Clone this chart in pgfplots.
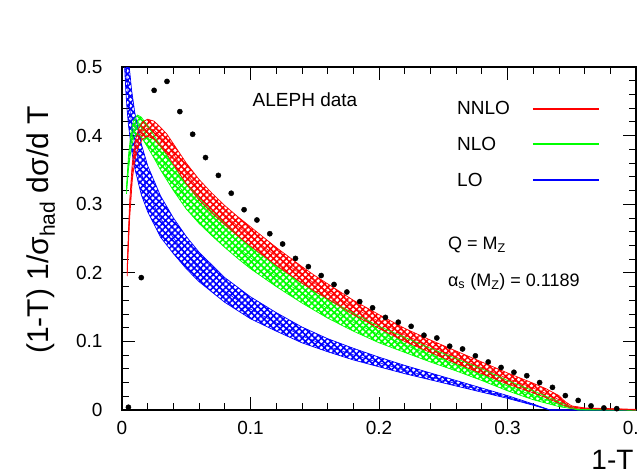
\documentclass[border=0pt]{standalone}
\usepackage{fontspec}
\setmainfont{Liberation Sans}
\usepackage{pgfplots}
\pgfplotsset{compat=1.18}
\usepackage{pgfplotstable}
\usepgfplotslibrary{fillbetween}
\usetikzlibrary{patterns.meta}

\pgfplotstableread{
x L C U
0.002 0.501 0.551 0.617
0.003 0.464 0.510 0.571
0.004 0.437 0.480 0.538
0.005 0.416 0.458 0.512
0.0075 0.378 0.416 0.466
0.010 0.352 0.386 0.433
0.015 0.314 0.345 0.388
0.020 0.289 0.318 0.356
0.030 0.252 0.279 0.312
0.040 0.228 0.251 0.280
0.050 0.206 0.227 0.253
0.060 0.187 0.206 0.230
0.080 0.157 0.173 0.193
0.100 0.133 0.147 0.165
0.120 0.115 0.127 0.142
0.140 0.098 0.108 0.121
0.160 0.085 0.093 0.104
0.180 0.073 0.0805 0.090
0.200 0.063 0.069 0.077
0.220 0.053 0.058 0.065
0.240 0.044 0.048 0.054
0.260 0.035 0.0385 0.043
0.280 0.026 0.0287 0.032
0.300 0.017 0.0186 0.021
0.320 0.007 0.0078 0.0087
0.333 0.000 0.000 0.000
0.400 0.000 0.000 0.000
}\tabLO

\pgfplotstableread{
x L C U
0.0035 0.315 0.320 0.325
0.005 0.350 0.360 0.370
0.007 0.380 0.392 0.405
0.009 0.397 0.410 0.422
0.012 0.403 0.416 0.430
0.015 0.398 0.412 0.427
0.020 0.383 0.398 0.414
0.025 0.367 0.383 0.400
0.030 0.350 0.367 0.385
0.040 0.320 0.338 0.356
0.050 0.293 0.3115 0.330
0.060 0.272 0.290 0.308
0.070 0.254 0.2715 0.289
0.080 0.237 0.254 0.271
0.090 0.221 0.2375 0.254
0.100 0.206 0.222 0.238
0.110 0.193 0.2085 0.224
0.120 0.180 0.195 0.210
0.130 0.168 0.1825 0.197
0.140 0.156 0.1705 0.185
0.150 0.145 0.159 0.173
0.160 0.134 0.148 0.162
0.180 0.115 0.128 0.141
0.200 0.098 0.110 0.122
0.220 0.084 0.095 0.106
0.240 0.070 0.080 0.090
0.260 0.057 0.066 0.075
0.280 0.043 0.051 0.060
0.300 0.028 0.035 0.043
0.320 0.015 0.021 0.028
0.330 0.010 0.015 0.020
0.340 0.005 0.008 0.012
0.350 0.002 0.003 0.004
0.355 0.000 0.0005 0.001
0.400 0.000 0.000 0.000
}\tabNLO

\pgfplotstableread{
x L C U
0.004 0.195 0.200 0.205
0.005 0.240 0.250 0.260
0.006 0.280 0.292 0.305
0.008 0.335 0.347 0.360
0.010 0.365 0.377 0.390
0.013 0.385 0.397 0.410
0.016 0.395 0.407 0.420
0.020 0.399 0.411 0.424
0.025 0.395 0.408 0.421
0.030 0.384 0.398 0.412
0.035 0.373 0.3875 0.402
0.040 0.358 0.373 0.388
0.050 0.330 0.345 0.360
0.060 0.306 0.321 0.336
0.070 0.287 0.3015 0.316
0.080 0.270 0.284 0.298
0.090 0.254 0.268 0.282
0.100 0.239 0.253 0.267
0.110 0.225 0.2385 0.252
0.120 0.211 0.224 0.237
0.130 0.198 0.2105 0.223
0.140 0.185 0.197 0.209
0.150 0.173 0.1845 0.196
0.160 0.162 0.173 0.184
0.180 0.139 0.1495 0.160
0.200 0.119 0.129 0.139
0.220 0.100 0.1095 0.119
0.240 0.084 0.093 0.102
0.260 0.068 0.077 0.086
0.280 0.053 0.0615 0.070
0.300 0.038 0.046 0.054
0.320 0.025 0.032 0.039
0.330 0.018 0.024 0.031
0.340 0.010 0.015 0.021
0.345 0.006 0.009 0.012
0.350 0.003 0.0045 0.006
0.360 0.002 0.0025 0.003
0.380 0.001 0.0015 0.002
0.400 0.000 0.0005 0.001
}\tabNNLO

\pgfplotstableread{
x y
0.005 0.004
0.015 0.193
0.025 0.466
0.035 0.479
0.045 0.435
0.055 0.402
0.065 0.368
0.075 0.342
0.085 0.316
0.095 0.292
0.105 0.277
0.115 0.257
0.125 0.242
0.135 0.221
0.145 0.209
0.155 0.196
0.165 0.183
0.175 0.172
0.185 0.158
0.195 0.149
0.205 0.135
0.215 0.128
0.225 0.122
0.235 0.109
0.245 0.105
0.255 0.093
0.265 0.089
0.275 0.079
0.285 0.070
0.295 0.062
0.305 0.055
0.315 0.050
0.325 0.040
0.335 0.033
0.345 0.021
0.355 0.014
0.365 0.006
0.375 0.003
0.385 0.002
}\tabData

\begin{document}
\begin{tikzpicture}
\begin{axis}[
  at={(0pt,0pt)}, anchor=south west,
  scale only axis, width=514pt, height=343pt,
  xmin=0, xmax=0.4, ymin=0, ymax=0.5,
  xtick={0,0.1,0.2,0.3,0.4}, xticklabels={0,0.1,0.2,0.3,0.4},
  ytick={0,0.1,0.2,0.3,0.4,0.5}, yticklabels={0,0.1,0.2,0.3,0.4,0.5},
  minor x tick num=4, minor y tick num=4,
  tick align=inside, major tick length=13pt, minor tick length=7pt,
  xtick pos=both, ytick pos=both,
  ticklabel style={font=\fontsize{19}{22}\selectfont},
  xticklabel style={yshift=-8pt},
  yticklabel style={xshift=-16pt},
  axis line style={line width=1.2pt},
  tick style={line width=0.8pt, black},
  xlabel={1-T},
  xlabel style={font=\fontsize{28}{32}\selectfont, at={(axis description cs:1.002,-0.145)}, anchor=east},
  ylabel={(1-T) 1/σ\textsubscript{had} dσ/d T},
  ylabel style={font=\fontsize{30}{34}\selectfont, at={(axis description cs:-0.158,0.525)}, anchor=center},
  legend plot pos=right, legend cell align=left,
  legend image code/.code={\draw[#1] (0pt,0pt) -- (66pt,0pt);},
  legend style={at={(axis description cs:0.642,0.9125)}, anchor=north west, draw=none, fill=none,
    font=\fontsize{19}{22}\selectfont, row sep=17pt, column sep=20pt},
]
% LO band
\addplot[name path=bU, blue, line width=0.7pt, forget plot] table[x=x,y=U]{\tabLO};
\addplot[name path=bL, blue, line width=0.7pt, forget plot] table[x=x,y=L]{\tabLO};
\addplot[blue, line width=0.6pt, forget plot] table[x=x,y=C]{\tabLO};
\addplot[draw=none, pattern={Hatch[angle=45,distance=4.5pt,line width=1.6pt]}, pattern color=blue, forget plot] fill between[of=bU and bL];
% NLO band
\addplot[name path=gU, green, line width=0.7pt, forget plot] table[x=x,y=U]{\tabNLO};
\addplot[name path=gL, green, line width=0.7pt, forget plot] table[x=x,y=L]{\tabNLO};
\addplot[green, line width=0.6pt, forget plot] table[x=x,y=C]{\tabNLO};
\addplot[draw=none, pattern={Hatch[angle=45,distance=4.5pt,line width=1.6pt]}, pattern color=green, forget plot] fill between[of=gU and gL];
% NNLO band
\addplot[name path=rU, red, line width=0.7pt, forget plot] table[x=x,y=U]{\tabNNLO};
\addplot[name path=rL, red, line width=0.7pt, forget plot] table[x=x,y=L]{\tabNNLO};
\addplot[red, line width=0.6pt, forget plot] table[x=x,y=C]{\tabNNLO};
\addplot[draw=none, pattern={Hatch[angle=45,distance=4.5pt,line width=1.6pt]}, pattern color=red, forget plot] fill between[of=rU and rL];
% data
\addplot[only marks, mark=*, mark size=2.6pt, black, forget plot] table[x=x,y=y]{\tabData};
% legend
\addlegendimage{red, line width=2pt}\addlegendentry{NNLO}
\addlegendimage{green, line width=2pt}\addlegendentry{NLO}
\addlegendimage{blue, line width=2pt}\addlegendentry{LO}
% texts
\node[anchor=west, font=\fontsize{19}{22}\selectfont] at (axis cs:0.099,0.452) {ALEPH data};
\node[anchor=west, font=\fontsize{18}{22}\selectfont] at (axis cs:0.251,0.240) {Q = M\textsubscript{Z}};
\node[anchor=west, font=\fontsize{18}{22}\selectfont] at (axis cs:0.251,0.187) {α\textsubscript{s} (M\textsubscript{Z}) = 0.1189};
\end{axis}
\pgfresetboundingbox
\path[use as bounding box] (-122pt,-65pt) rectangle (517pt,410pt);
\end{tikzpicture}
\end{document}
